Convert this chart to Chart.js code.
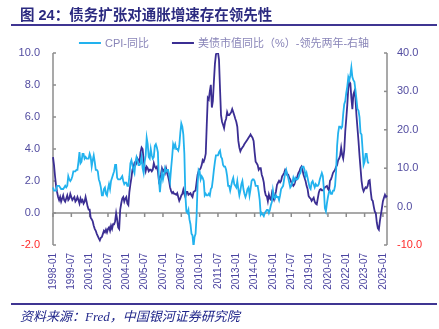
<!DOCTYPE html>
<html>
<head>
<meta charset="utf-8">
<script src="https://cdn.jsdelivr.net/npm/chart.js@4.4.1/dist/chart.umd.min.js"></script>
<style>
  html, body { margin: 0; padding: 0; background: #fff; }
  #wrap { position: relative; width: 439px; height: 329px; overflow: hidden; }
  #chart { position: absolute; left: 0; top: 0; }
  .title {
    position: absolute; left: 20px; top: 3px; white-space: nowrap;
    font: bold 14.5px "Liberation Sans", "Noto Sans CJK SC", sans-serif; color: #2b2a80;
  }
  .rule { position: absolute; left: 11px; width: 426px; height: 2px; background: #3f3592; }
  .source {
    position: absolute; left: 20px; top: 306px; white-space: nowrap;
    font: italic 13px "Liberation Serif", "Noto Sans CJK SC", serif; color: #20268a;
  }
</style>
</head>
<body>
<div id="wrap">
  <canvas id="chart" width="439" height="329"></canvas>
  <div class="title">图 24：债务扩张对通胀增速存在领先性</div>
  <div class="rule" style="top:24px"></div>
  <div class="rule" style="top:303px"></div>
  <div class="source">资料来源：Fred，中国银河证券研究院</div>
</div>
<script>
// months 1998-01 .. 2025-05
const months = [];
for (let y = 1998; y <= 2025; y++) {
  for (let m = 1; m <= 12; m++) {
    if (y === 2025 && m > 5) break;
    months.push(y + '-' + String(m).padStart(2, '0'));
  }
}

// CPI 同比 (%), left axis, 1998-01 .. 2023-11
const cpiYoY = [
  1.6,1.4,1.4,1.4,1.7,1.7,1.7,1.6,1.5,1.5,1.5,1.6,
  1.7,1.6,1.7,2.3,2.1,2.0,2.1,2.3,2.6,2.6,2.6,2.7,
  2.7,3.2,3.8,3.1,3.2,3.7,3.7,3.4,3.5,3.4,3.4,3.4,
  3.7,3.5,2.9,3.3,3.6,3.2,2.7,2.7,2.6,2.1,1.9,1.6,
  1.1,1.1,1.5,1.6,1.2,1.1,1.5,1.8,1.5,2.0,2.2,2.4,
  2.6,3.0,3.0,2.2,2.1,2.1,2.1,2.2,2.3,2.0,1.8,1.9,
  1.9,1.7,1.7,2.3,3.1,3.3,3.0,2.7,2.5,3.2,3.5,3.3,
  3.0,3.0,3.1,3.5,2.8,2.5,3.2,3.6,4.7,4.3,3.5,3.4,
  4.0,3.6,3.4,3.5,4.2,4.3,4.1,3.8,2.1,1.3,2.0,2.5,
  2.1,2.4,2.8,2.6,2.7,2.7,2.4,2.0,2.8,3.5,4.3,4.1,
  4.3,4.0,4.0,3.9,4.2,5.0,5.6,5.4,4.9,3.7,1.1,0.1,
  0.0,0.2,-0.4,-0.7,-1.3,-1.4,-2.1,-1.5,-1.3,-0.2,1.8,2.7,
  2.6,2.1,2.3,2.2,2.0,1.1,1.2,1.1,1.1,1.2,1.1,1.5,
  1.6,2.1,2.7,3.2,3.6,3.6,3.6,3.8,3.9,3.5,3.4,3.0,
  2.9,2.9,2.7,2.3,1.7,1.7,1.4,1.7,2.0,2.2,1.8,1.7,
  1.6,2.0,1.5,1.1,1.4,1.8,2.0,1.5,1.2,1.0,1.2,1.5,
  1.6,1.1,1.5,2.0,2.1,2.1,2.0,1.7,1.7,1.7,1.3,0.8,
  -0.1,0.0,-0.1,-0.2,0.0,0.1,0.2,0.2,0.0,0.2,0.5,0.7,
  1.4,1.0,0.9,1.1,1.0,1.0,0.8,1.1,1.5,1.6,1.7,2.1,
  2.5,2.7,2.4,2.2,1.9,1.6,1.7,1.9,2.2,2.0,2.2,2.1,
  2.1,2.2,2.4,2.5,2.8,2.9,2.9,2.7,2.3,2.5,2.2,1.9,
  1.6,1.5,1.9,2.0,1.8,1.6,1.8,1.7,1.7,1.8,2.1,2.3,
  2.5,2.3,1.5,0.3,0.1,0.6,1.0,1.3,1.4,1.2,1.2,1.4,
  1.4,1.7,2.6,4.2,5.0,5.4,5.4,5.3,5.4,6.2,6.8,7.0,
  7.5,7.9,8.5,8.3,8.6,9.1,8.5,8.3,8.2,7.7,7.1,6.5,
  6.4,6.0,5.0,4.9,4.0,3.0,3.2,3.7,3.7,3.2,3.1
];

// 美债市值同比 (%), shifted forward two years, right axis, 1998-01 .. 2025-05
const ustValueYoYLead = [
  12.9,10.8,7.9,5.4,3.8,2.5,1.7,2.5,1.3,2.1,2.9,1.7,
  1.3,2.1,2.9,1.7,2.1,3.3,2.5,1.7,2.1,2.5,1.3,1.7,
  2.5,1.7,0.8,2.1,1.3,1.7,0.8,1.3,2.5,1.3,0.0,-0.8,
  -0.8,-2.9,-3.3,-3.8,-5.0,-5.8,-6.3,-7.1,-7.7,-8.3,-8.8,-8.1,
  -7.9,-7.1,-6.3,-6.7,-6.0,-6.7,-5.8,-5.4,-6.3,-5.0,-5.8,-4.6,
  -4.6,-3.8,-1.7,-3.3,-5.4,-5.8,-0.8,0.8,2.1,2.5,1.3,2.1,
  2.5,0.8,0.4,3.8,5.8,7.5,9.6,10.4,11.3,10.8,11.3,12.5,
  12.1,11.7,14.2,15.4,15.0,12.1,10.4,9.2,10.4,10.0,9.2,9.6,
  9.6,9.2,9.6,11.3,10.4,10.0,10.4,9.2,6.7,7.5,8.3,10.0,
  9.2,9.6,8.8,10.0,8.8,7.9,6.7,5.0,4.0,3.5,3.8,3.3,
  3.3,3.1,3.5,2.5,1.5,2.1,2.9,3.3,4.4,3.3,2.5,3.8,
  3.8,3.1,3.3,3.5,2.9,2.5,3.8,4.0,4.2,6.3,8.3,9.2,
  9.6,10.0,10.8,12.1,11.7,12.5,13.8,21.3,28.3,27.9,30.0,31.7,
  25.8,27.5,32.5,37.1,39.6,40.2,40.2,38.3,30.8,23.8,22.1,21.3,
  20.4,22.1,22.9,24.6,23.8,23.8,24.2,24.6,25.4,24.6,23.8,22.9,
  22.1,20.8,17.1,15.4,14.4,15.0,15.4,15.8,16.3,16.7,17.1,17.5,
  17.9,18.3,18.8,18.3,17.9,17.1,14.2,11.7,11.3,10.8,9.6,10.0,
  10.0,8.3,7.5,6.3,4.0,2.9,2.7,1.4,3.1,2.1,1.8,3.5,
  2.5,1.8,2.9,4.0,5.7,6.2,6.7,6.3,6.7,7.9,8.3,8.8,
  9.6,9.2,8.3,8.3,7.5,7.1,6.3,5.8,5.4,5.8,6.7,7.1,
  7.9,8.8,9.2,10.0,10.4,9.6,8.3,7.5,6.7,5.4,4.6,2.8,
  2.3,2.1,1.5,1.9,2.3,1.3,0.8,0.6,2.1,3.6,4.4,4.6,
  4.2,4.2,4.6,5.0,5.2,5.4,4.6,4.2,6.7,7.1,7.9,8.8,
  9.2,9.6,10.4,10.8,12.1,12.5,13.3,15.3,13.5,12.5,14.6,19.6,
  22.9,26.5,30.8,32.5,32.1,28.3,25.4,29.2,30.0,28.3,23.8,20.4,
  17.1,13.3,10.0,6.7,4.8,4.0,4.6,5.0,4.8,5.4,6.7,6.9,
  4.0,1.8,1.5,0.0,-1.3,-1.7,-4.2,-5.6,-6.0,-3.8,-2.1,-0.4,
  1.4,2.3,3.1,2.5,2.9
];

const leftTicks = [-2, 0, 2, 4, 6, 8, 10];
const rightTicks = [-10, 0, 10, 20, 30, 40];
const labelEvery = 18;

const cpiColor = '#22b2ee';
const ustColor = '#3b2e93';
const axisColor = '#8c8c8c';
const tickColor = '#524ca0';
const negColor = '#ff2a2a';
const cjkFont = '"Liberation Sans", "Noto Sans CJK SC", sans-serif';

// axis lines, zero line with tick marks, and the legend
const decor = {
  id: 'decor',
  beforeDatasetsDraw(chart) {
    const { ctx, chartArea: a, scales } = chart;
    const seg = (x1, y1, x2, y2) => { ctx.beginPath(); ctx.moveTo(x1, y1); ctx.lineTo(x2, y2); ctx.stroke(); };
    ctx.save();
    ctx.strokeStyle = axisColor;
    ctx.lineWidth = 1.5;
    const y0 = scales.y.getPixelForValue(0);
    seg(a.left, y0, a.right, y0);
    months.forEach((m, i) => {
      if (i % labelEvery === 0) {
        const px = scales.x.getPixelForValue(i);
        seg(px, y0, px, y0 + 4);
      }
    });
    seg(a.left, a.top, a.left, a.bottom);
    leftTicks.forEach(v => { const py = scales.y.getPixelForValue(v); seg(a.left, py, a.left + 3, py); });
    seg(a.right, a.top, a.right, a.bottom);
    rightTicks.forEach(v => { const py = scales.y1.getPixelForValue(v); seg(a.right - 3, py, a.right, py); });
    ctx.restore();
  },
  afterDraw(chart) {
    const { ctx } = chart;
    const ly = 43, lineW = 22, gap = 4, itemGap = 23;
    ctx.save();
    ctx.font = '11px ' + cjkFont;
    ctx.textBaseline = 'middle';
    const items = chart.data.datasets.map(d => ({ text: d.label, color: d.borderColor, w: ctx.measureText(d.label).width }));
    const total = items.reduce((s, it) => s + lineW + gap + it.w, 0) + itemGap * (items.length - 1);
    let x = 224 - total / 2;
    items.forEach(it => {
      ctx.strokeStyle = it.color;
      ctx.lineWidth = 2;
      ctx.beginPath(); ctx.moveTo(x, ly); ctx.lineTo(x + lineW, ly); ctx.stroke();
      ctx.fillStyle = '#8985b8';
      ctx.fillText(it.text, x + lineW + gap, ly + 0.5);
      x += lineW + gap + it.w + itemGap;
    });
    ctx.restore();
  }
};

const ctx = document.getElementById('chart').getContext('2d');
const chart = new Chart(ctx, {
  type: 'line',
  data: {
    labels: months,
    datasets: [
      {
        label: 'CPI-同比',
        data: cpiYoY,
        yAxisID: 'y',
        borderColor: cpiColor,
        borderWidth: 1.8,
        pointRadius: 0,
        tension: 0
      },
      {
        label: '美债市值同比（%）-领先两年-右轴',
        data: ustValueYoYLead,
        yAxisID: 'y1',
        borderColor: ustColor,
        borderWidth: 1.8,
        pointRadius: 0,
        tension: 0
      }
    ]
  },
  options: {
    responsive: false,
    animation: false,
    layout: { padding: { top: 53, left: 0, right: 0, bottom: 0 } },
    plugins: {
      legend: { display: false },
      title: { display: false },
      tooltip: { enabled: false }
    },
    scales: {
      x: {
        type: 'category',
        offset: false,
        grid: { display: false, drawTicks: false },
        border: { display: false },
        ticks: {
          autoSkip: false,
          minRotation: 90,
          maxRotation: 90,
          padding: 8,
          color: '#4b44a0',
          font: { family: 'Liberation Sans', size: 10 },
          callback: function (v, i) { return i % labelEvery === 0 ? this.getLabelForValue(v) : null; }
        },
        afterFit: s => { s.height = 84; }
      },
      y: {
        position: 'left',
        min: -2,
        max: 10,
        grid: { display: false, drawTicks: false },
        border: { display: false },
        ticks: {
          stepSize: 2,
          padding: 13,
          color: c => c.tick.value < 0 ? negColor : tickColor,
          font: { family: 'Liberation Sans', size: 11 },
          callback: v => v.toFixed(1)
        },
        afterFit: s => { s.width = 53; }
      },
      y1: {
        position: 'right',
        min: -10,
        max: 40,
        grid: { display: false, drawTicks: false },
        border: { display: false },
        ticks: {
          stepSize: 10,
          padding: 10,
          color: c => c.tick.value < 0 ? negColor : tickColor,
          font: { family: 'Liberation Sans', size: 11 },
          callback: v => v.toFixed(1)
        },
        afterFit: s => { s.width = 52; }
      }
    }
  },
  plugins: [decor]
});
</script>
</body>
</html>
